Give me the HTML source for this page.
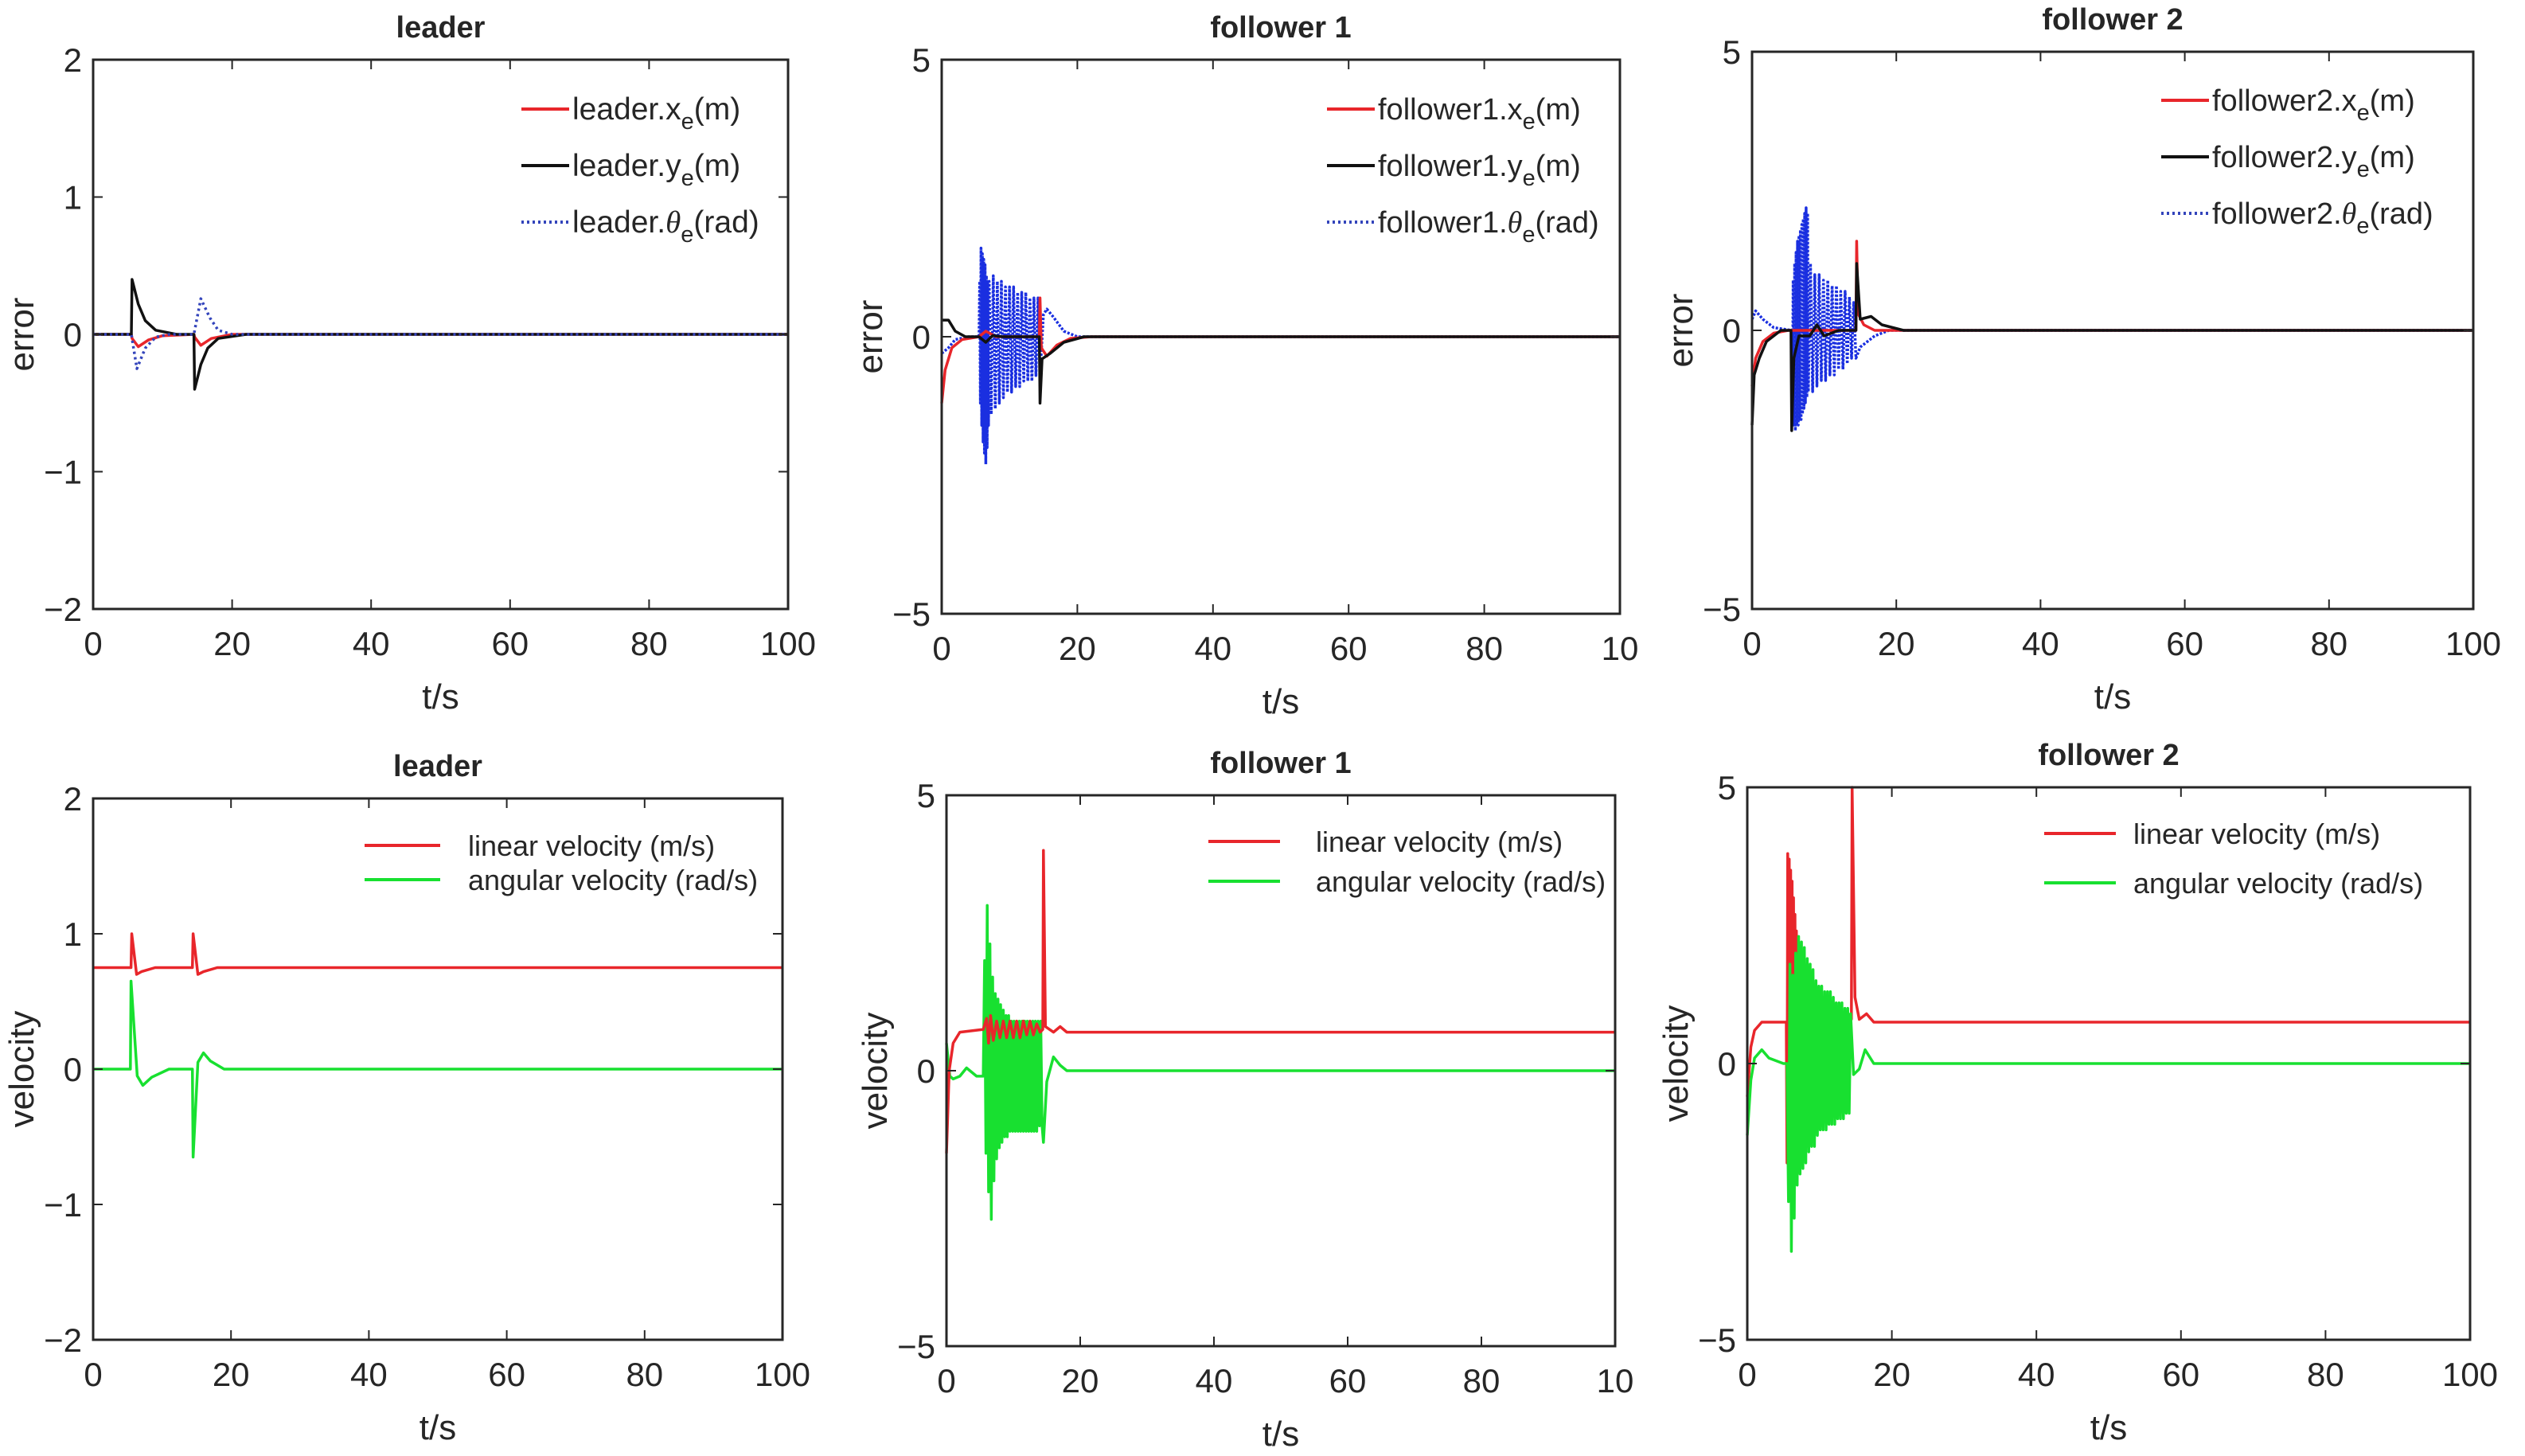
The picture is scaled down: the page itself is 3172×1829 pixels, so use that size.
<!DOCTYPE html>
<html><head><meta charset="utf-8"><style>
html,body{margin:0;padding:0;background:#fff}
svg{display:block}
text{font-family:"Liberation Sans",sans-serif;fill:#262626}
</style></head><body>
<svg id="c" width="3172" height="1829" viewBox="0 0 3172 1829" xmlns="http://www.w3.org/2000/svg"></svg>
<script>
// ---- data: [t, value] pairs ----
const leaderXe=[[0,0],[5.5,0],[5.6,-0.03],[6.5,-0.09],[8,-0.04],[10,-0.01],[14.5,0],[14.6,-0.02],[15.5,-0.08],[17,-0.03],[20,0],[100,0]];
const leaderYe=[[0,0],[5.5,0],[5.6,0.4],[6.5,0.22],[7.5,0.1],[9,0.03],[12,0],[14.5,0],[14.6,-0.4],[15.5,-0.22],[16.5,-0.1],[18,-0.03],[22,0],[100,0]];
const leaderTh=[[0,0],[5.5,0],[6.3,-0.25],[7.5,-0.1],[9,-0.02],[11,0],[14.5,0],[15.5,0.26],[16.8,0.12],[18,0.03],[20,0],[100,0]];

const f1Xe=[[0,-1.2],[0.5,-0.6],[1.5,-0.2],[3,-0.05],[5.5,0],[6.5,0.1],[8,0],[14.4,0],[14.5,0.7],[14.7,-0.2],[15.5,-0.35],[17,-0.15],[19,-0.03],[22,0],[100,0]];
const f1Ye=[[0,0.3],[1,0.3],[2,0.1],[3.5,0],[5.5,0],[6.5,-0.1],[7.5,0.02],[9,0],[14.4,0],[14.5,-1.2],[14.8,-0.4],[16,-0.3],[18,-0.1],[21,0],[100,0]];
const f1Th=[[0,-0.3],[1,-0.2],[2,-0.05],[4,0],[5.5,0],[5.6,1.0],[5.7,-1.2],[5.8,1.6],[5.9,-1.6],[6.0,1.5],[6.1,-1.9],[6.2,1.4],[6.3,-2.1],[6.4,1.3],[6.5,-2.3],[6.6,1.1],[6.7,-2.0],[6.8,1.0],[6.9,-1.6],[7.0,1.0],[7.3,-1.4],[7.6,1.1],[7.9,-1.3],[8.2,1.0],[8.5,-1.2],[8.8,1.0],[9.1,-1.1],[9.4,0.9],[9.7,-1.0],[10,0.9],[10.3,-1.0],[10.6,0.9],[10.9,-0.9],[11.2,0.8],[11.5,-0.9],[11.8,0.8],[12.1,-0.8],[12.4,0.8],[12.7,-0.8],[13,0.7],[13.3,-0.8],[13.6,0.7],[13.9,-0.7],[14.2,0.7],[14.5,-0.7],[15,0.4],[15.5,0.5],[16.5,0.35],[18,0.1],[20,0],[100,0]];

const f2Xe=[[0,-1],[0.5,-0.5],[1.5,-0.2],[3,-0.05],[5,0],[14.4,0],[14.5,1.6],[14.7,0.3],[15.5,0.1],[17,0],[100,0]];
const f2Ye=[[0,-1.7],[0.3,-0.8],[1,-0.5],[2,-0.2],[4,0],[5.4,0],[5.5,-1.8],[5.8,-0.5],[6.5,-0.1],[8,-0.1],[9,0.1],[10,-0.1],[12,0],[14.4,0],[14.5,1.2],[15,0.2],[16.5,0.25],[18,0.1],[21,0],[100,0]];
const f2Th=[[0,0.2],[0.5,0.35],[1.5,0.2],[3,0.05],[5.5,0],[5.6,-1.5],[5.7,0.9],[5.8,-1.7],[5.9,1.2],[6.0,-1.8],[6.1,1.4],[6.2,-1.7],[6.3,1.6],[6.4,-1.7],[6.5,1.7],[6.6,-1.6],[6.7,1.8],[6.8,-1.6],[6.9,1.9],[7.0,-1.5],[7.1,2.0],[7.2,-1.4],[7.3,2.1],[7.4,-1.3],[7.5,2.2],[7.6,-1.2],[7.7,2.1],[7.8,-1.1],[8.1,1.2],[8.4,-1.1],[8.7,1.0],[9.0,-1.0],[9.3,1.0],[9.6,-0.9],[9.9,0.9],[10.2,-0.9],[10.5,0.9],[10.8,-0.8],[11.1,0.8],[11.4,-0.8],[11.7,0.8],[12,-0.7],[12.3,0.7],[12.6,-0.7],[12.9,0.7],[13.2,-0.6],[13.5,0.6],[13.8,-0.5],[14.1,0.5],[14.4,-0.5],[15,-0.3],[16,-0.2],[17,-0.1],[19,0],[100,0]];

const lLin=[[0,0.75],[5.5,0.75],[5.6,1.0],[6.3,0.7],[7,0.72],[9,0.75],[14.4,0.75],[14.5,1.0],[15.2,0.7],[16,0.72],[18,0.75],[100,0.75]];
const lAng=[[0,0],[5.4,0],[5.5,0.65],[6.4,-0.05],[7.2,-0.12],[8.5,-0.06],[11,0],[14.4,0],[14.5,-0.65],[15.2,0.05],[16,0.12],[17,0.06],[19,0],[100,0]];

const f1Lin=[[0,-1.5],[0.4,0],[1,0.5],[2,0.7],[5.5,0.75],[6,0.95],[6.3,0.5],[6.6,1.0],[7,0.55],[7.5,0.9],[8,0.6],[8.5,0.9],[9,0.6],[9.5,0.9],[10,0.6],[10.5,0.9],[11,0.6],[11.5,0.9],[12,0.65],[12.5,0.9],[13,0.65],[13.5,0.85],[14,0.7],[14.4,0.75],[14.5,4.0],[14.8,0.8],[16,0.7],[17,0.8],[18,0.7],[100,0.7]];
const f1Ang=[[0,0.5],[0.5,-0.1],[1,-0.15],[2,-0.1],[3,0.05],[4.5,-0.1],[5.5,-0.1],[5.7,2.0],[5.9,-1.5],[6.1,3.0],[6.3,-2.2],[6.5,2.3],[6.7,-2.7],[6.9,1.7],[7.1,-2.0],[7.3,1.4],[7.5,-1.6],[7.7,1.3],[7.9,-1.4],[8.1,1.2],[8.3,-1.3],[8.5,1.1],[8.7,-1.2],[8.9,1.0],[9.1,-1.2],[9.3,1.0],[9.5,-1.1],[9.7,0.9],[9.9,-1.1],[10.1,0.9],[10.3,-1.1],[10.5,0.9],[10.7,-1.1],[10.9,0.9],[11.1,-1.1],[11.3,0.9],[11.5,-1.1],[11.7,0.9],[11.9,-1.1],[12.1,0.9],[12.3,-1.1],[12.5,0.9],[12.7,-1.1],[12.9,0.9],[13.1,-1.1],[13.3,0.9],[13.5,-1.1],[13.7,0.9],[13.9,-1.0],[14.1,0.9],[14.3,-1.0],[14.5,-1.3],[15,-0.2],[16,0.25],[17,0.1],[18,0],[100,0]];

const f2Lin=[[0,-0.6],[0.5,0.3],[1,0.6],[2,0.75],[5.4,0.75],[5.5,-1.8],[5.6,3.8],[5.7,-1.7],[5.8,3.7],[5.9,-1.5],[6.0,3.5],[6.1,-1.2],[6.2,3.3],[6.3,-1.0],[6.4,3.0],[6.5,-0.8],[6.6,2.7],[6.7,-0.5],[6.8,2.4],[6.9,-0.2],[7.0,2.0],[7.2,0.2],[7.4,1.6],[7.7,0.3],[8,1.2],[8.5,0.4],[9,1.1],[9.5,0.5],[10,1.0],[10.5,0.5],[11,1.0],[11.5,0.6],[12,0.9],[13,0.7],[14.4,0.8],[14.5,5.0],[14.9,1.2],[15.5,0.8],[16.5,0.9],[17.5,0.75],[100,0.75]];
const f2Ang=[[0,-1.3],[0.5,-0.3],[1,0.1],[2,0.25],[3,0.1],[5,0],[5.5,0],[5.7,-2.5],[5.9,1.8],[6.1,-3.4],[6.3,1.6],[6.5,-2.8],[6.7,2.0],[6.9,-2.2],[7.1,2.3],[7.3,-2.0],[7.5,2.2],[7.7,-1.9],[7.9,2.1],[8.1,-1.8],[8.3,1.9],[8.5,-1.6],[8.7,1.8],[8.9,-1.5],[9.1,1.7],[9.3,-1.5],[9.5,1.5],[9.7,-1.3],[9.9,1.4],[10.1,-1.2],[10.3,1.4],[10.5,-1.2],[10.7,1.3],[10.9,-1.2],[11.1,1.3],[11.3,-1.1],[11.5,1.3],[11.7,-1.1],[11.9,1.2],[12.1,-1.1],[12.3,1.1],[12.5,-1.0],[12.7,1.1],[12.9,-1.0],[13.1,1.1],[13.3,-1.0],[13.5,1.0],[13.7,-0.9],[13.9,1.0],[14.1,-0.9],[14.3,0.9],[14.7,-0.2],[15.5,-0.1],[16.3,0.25],[17.5,0],[100,0]];

const xTicks=[0,20,40,60,80,100];
const xTickLabelsFull=["0","20","40","60","80","100"];
const xTickLabelsCut=["0","20","40","60","80","10"];
const yTicks2=[-2,-1,0,1,2];
const yTicks5=[-5,0,5];

const svg=document.getElementById('c');
const NS='http://www.w3.org/2000/svg';
function mk(tag,attrs,parent){const e=document.createElementNS(NS,tag);for(const k in attrs)e.setAttribute(k,attrs[k]);(parent||svg).appendChild(e);return e;}

function panel(p){
  const g=mk('g',{});
  
  
  const sx=t=>p.x0+(t-0)/(100-0)*(p.x1-p.x0);
  const sy=v=>p.y1-(v-p.ymin)/(p.ymax-p.ymin)*(p.y1-p.y0);
  p.series.forEach(s=>{
    const d=s.data.map((pt,i)=>(i?'L':'M')+sx(pt[0]).toFixed(1)+' '+sy(pt[1]).toFixed(1)).join(' ');
    const path=mk('path',{d:d,fill:'none',stroke:s.color,'stroke-width':s.w||3.5,'stroke-linejoin':'round'},g);
    if(s.dash)path.setAttribute('stroke-dasharray',s.dash);
    
    
  });
  const box=mk('rect',{x:p.x0,y:p.y0,width:p.x1-p.x0,height:p.y1-p.y0,fill:'none',stroke:'#262626','stroke-width':3},g);
  
  
  xTicks.forEach((t,i)=>{
    const x=sx(t);
    mk('line',{x1:x,y1:p.y1,x2:x,y2:p.y1-12,stroke:'#262626','stroke-width':2},g);
    mk('line',{x1:x,y1:p.y0,x2:x,y2:p.y0+12,stroke:'#262626','stroke-width':2},g);
    const tx=mk('text',{x:x,y:p.y1+58,'font-size':42,'text-anchor':'middle'},g);
    tx.textContent=p.xl[i];
    
    
  });
  p.yt.forEach(v=>{
    const y=sy(v);
    mk('line',{x1:p.x0,y1:y,x2:p.x0+12,y2:y,stroke:'#262626','stroke-width':2},g);
    mk('line',{x1:p.x1,y1:y,x2:p.x1-12,y2:y,stroke:'#262626','stroke-width':2},g);
    const tx=mk('text',{x:p.x0-14,y:y+15,'font-size':42,'text-anchor':'end'},g);
    tx.textContent=v<0?'\u2212'+(-v):String(v);
    
    
  });
  const xt=mk('text',{x:(p.x0+p.x1)/2,y:p.y1+125,'font-size':44,'text-anchor':'middle'},g);
  xt.textContent='t/s';
  
  
  const yx=p.x0-75, yy=(p.y0+p.y1)/2;
  const yt=mk('text',{x:yx,y:yy,'font-size':44,'text-anchor':'middle',transform:`rotate(-90 ${yx} ${yy})`},g);
  yt.textContent=p.ylabel;
  
  
  const ti=mk('text',{x:(p.x0+p.x1)/2,y:p.y0-28,'font-size':38,'font-weight':'bold','text-anchor':'middle'},g);
  ti.textContent=p.title;
  
  
  p.legend.forEach((L,i)=>{
    const ly=p.ly+i*p.lgap;
    const ln=mk('line',{x1:p.lx,y1:ly,x2:p.lx+p.llen,y2:ly,stroke:L.color,'stroke-width':L.w||4},g);
    if(L.dash)ln.setAttribute('stroke-dasharray',L.dash);
    const tx=mk('text',{x:p.lx+p.llen+p.lpad,y:ly+13,'font-size':p.lfs||38},g);
    tx.innerHTML=L.html;
    
    
  });
}
function sub(pre,s,post){return pre+'<tspan dy="12" font-size="29">'+s+'</tspan><tspan dy="-12">'+post+'</tspan>';}
const TH='<tspan font-style="italic" font-family="Liberation Serif">θ</tspan>';

function errLegend(n){return [
 {color:'#e8262b',html:sub(n+'.x','e','(m)')},
 {color:'#111',html:sub(n+'.y','e','(m)')},
 {color:'#3344bb',dash:'3 4',html:n+'.'+TH+'<tspan dy="12" font-size="29">e</tspan><tspan dy="-12">(rad)</tspan>'}];}
const velLegend=[{color:'#e8262b',html:'linear velocity (m/s)'},{color:'#18e030',html:'angular velocity (rad/s)'}];

panel({name:'leader-error-panel',title:'leader',ylabel:'error',x0:117,x1:990,y0:75,y1:765,ymin:-2,ymax:2,yt:yTicks2,xl:xTickLabelsFull,
 series:[{id:'leader-xe',data:leaderXe,color:'#e8262b'},{id:'leader-ye',data:leaderYe,color:'#111'},{id:'leader-theta',data:leaderTh,color:'#3344bb',dash:'3 4'}],
 legend:errLegend('leader'),lx:655,ly:137,lgap:71,llen:60,lpad:4,lfs:39});
panel({name:'follower1-error-panel',title:'follower 1',ylabel:'error',x0:1183,x1:2035,y0:75,y1:771,ymin:-5,ymax:5,yt:yTicks5,xl:xTickLabelsCut,
 series:[{id:'follower1-theta',data:f1Th,color:'#1a2fe0',dash:'3 2'},{id:'follower1-xe',data:f1Xe,color:'#e8262b'},{id:'follower1-ye',data:f1Ye,color:'#111'}],
 legend:errLegend('follower1'),lx:1667,ly:137,lgap:71,llen:60,lpad:4});
panel({name:'follower2-error-panel',title:'follower 2',ylabel:'error',x0:2201,x1:3107,y0:65,y1:765,ymin:-5,ymax:5,yt:yTicks5,xl:xTickLabelsFull,
 series:[{id:'follower2-theta',data:f2Th,color:'#1a2fe0',dash:'3 2'},{id:'follower2-xe',data:f2Xe,color:'#e8262b'},{id:'follower2-ye',data:f2Ye,color:'#111'}],
 legend:errLegend('follower2'),lx:2715,ly:126,lgap:71,llen:60,lpad:4});

panel({name:'leader-velocity-panel',title:'leader',ylabel:'velocity',x0:117,x1:983,y0:1003,y1:1683,ymin:-2,ymax:2,yt:yTicks2,xl:xTickLabelsFull,
 series:[{id:'leader-linear-velocity',data:lLin,color:'#e8262b'},{id:'leader-angular-velocity',data:lAng,color:'#18e030'}],
 legend:velLegend,lx:458,ly:1062,lgap:43,llen:95,lpad:35,lfs:36});
panel({name:'follower1-velocity-panel',title:'follower 1',ylabel:'velocity',x0:1189,x1:2029,y0:999,y1:1691,ymin:-5,ymax:5,yt:yTicks5,xl:xTickLabelsCut,
 series:[{id:'follower1-angular-velocity',data:f1Ang,color:'#18e030'},{id:'follower1-linear-velocity',data:f1Lin,color:'#e8262b'}],
 legend:velLegend,lx:1518,ly:1057,lgap:50,llen:90,lpad:45,lfs:36});
panel({name:'follower2-velocity-panel',title:'follower 2',ylabel:'velocity',x0:2195,x1:3103,y0:989,y1:1683,ymin:-5,ymax:5,yt:yTicks5,xl:xTickLabelsFull,
 series:[{id:'follower2-linear-velocity',data:f2Lin,color:'#e8262b'},{id:'follower2-angular-velocity',data:f2Ang,color:'#18e030'}],
 legend:velLegend,lx:2568,ly:1047,lgap:62,llen:90,lpad:22,lfs:36});
</script>
</body></html>
